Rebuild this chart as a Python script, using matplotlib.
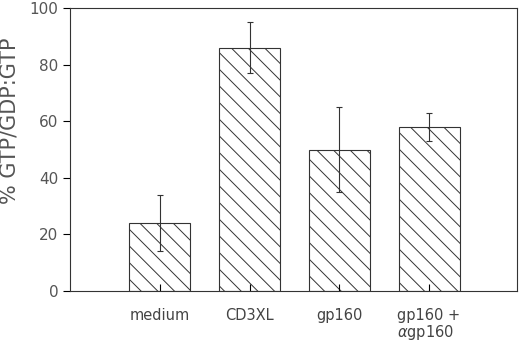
import matplotlib
matplotlib.use('Agg')
import matplotlib.pyplot as plt

# data
labels = ['medium', 'CD3XL', 'gp160', 'gp160 +\n$\\alpha$gp160']
values = [24, 86, 50, 58]
errors = [10, 9, 15, 5]

plt.rcParams['hatch.linewidth'] = 0.7
plt.rcParams['font.family'] = ['DejaVu Sans']

fig = plt.figure(figsize=(5.2, 3.43), dpi=100)
ax = fig.add_axes([70 / 520, 1 - 291 / 343, 447 / 520, 283 / 343])

x = list(range(len(values)))
ax.bar(x, values, width=0.68, color='white', edgecolor='#333333',
       hatch='\\\\', linewidth=0.8)
ax.errorbar(x, values, yerr=errors, fmt='none', ecolor='#333333',
            elinewidth=0.8, capsize=2, capthick=0.8)

ax.set_xlim(-1, 3.98)
ax.set_ylim(0, 100)
ax.set_yticks([0, 20, 40, 60, 80, 100])
ax.set_xticks(x)
ax.set_xticklabels(labels, multialignment='left', fontsize=10.5,
                   color='#444444', linespacing=1.0)
ax.tick_params(axis='x', direction='in', length=5, width=0.8, pad=12)
ax.tick_params(axis='y', direction='out', length=5, width=0.8,
               labelsize=11, labelcolor='#555555')
for s in ax.spines.values():
    s.set_linewidth(0.8)
    s.set_color('#333333')
ax.set_ylabel('% GTP/GDP:GTP', fontsize=15, color='#555555')
ax.yaxis.set_label_coords(-0.112, 0.6)

fig.savefig('out.png', dpi=100)
